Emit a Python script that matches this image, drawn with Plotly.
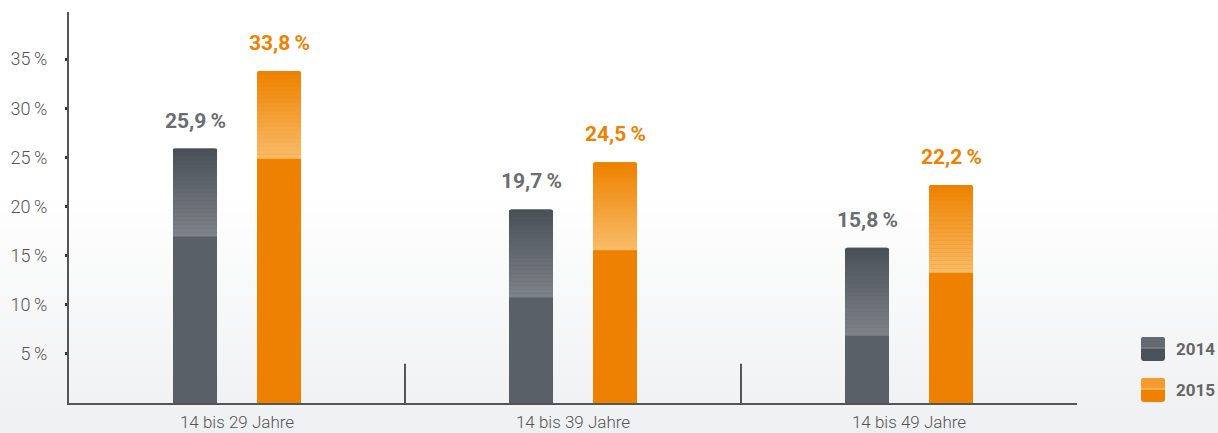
import plotly.graph_objects as go

categories = ["14 bis 29 Jahre", "14 bis 39 Jahre", "14 bis 49 Jahre"]
series_names = ["2014", "2015"]
values_2014 = [25.9, 19.7, 15.8]
values_2015 = [33.8, 24.5, 22.2]
labels_2014 = ["25,9\u2009%", "19,7\u2009%", "15,8\u2009%"]
labels_2015 = ["33,8\u2009%", "24,5\u2009%", "22,2\u2009%"]
tick_vals = [5, 10, 15, 20, 25, 30, 35]
tick_text = ["5\u2009%", "10\u2009%", "15\u2009%", "20\u2009%", "25\u2009%", "30\u2009%", "35\u2009%"]

W, H = 1218, 433
ML, MR, MT, MB = 69, 141, 12, 30
YMAX = 39.8
BAR_W = 0.131
CAP = 8.95  # gradient cap height in y units
NSEG = 22

def hex2rgb(h):
    h = h.lstrip("#")
    return tuple(int(h[i:i + 2], 16) for i in (0, 2, 4))

def mix(c1, c2, t):
    a, b = hex2rgb(c1), hex2rgb(c2)
    return "rgb(%d,%d,%d)" % tuple(round(a[i] + (b[i] - a[i]) * t) for i in range(3))

styles = {
    "2014": dict(base="#5a6068", top="#4a5058", low="#7d8288", text="#6a6d71", offset=-0.125,
                 lg_top="#646a71", lg_bot="#4c5259"),
    "2015": dict(base="#ee8200", top="#ee8200", low="#f8bb66", text="#ee8200", offset=0.125,
                 lg_top="#f49c30", lg_bot="#ee8200"),
}

fig = go.Figure()
xs = list(range(len(categories)))

for name, vals, labs in [("2014", values_2014, labels_2014), ("2015", values_2015, labels_2015)]:
    st = styles[name]
    off = st["offset"] - BAR_W / 2
    fig.add_trace(go.Bar(x=xs, y=vals, width=BAR_W, offset=off, name=name,
                         marker=dict(color=st["base"], cornerradius=3, line=dict(width=0)),
                         showlegend=False, hoverinfo="skip"))
    seg = CAP / NSEG
    for i in range(NSEG):
        t = i / (NSEG - 1)
        col = mix(st["low"], st["top"], t)
        bases = [v - CAP + i * seg for v in vals]
        top_seg = i == NSEG - 1
        fig.add_trace(go.Bar(x=xs, y=[seg * (1.0 if top_seg else 1.05)] * len(vals), base=bases,
                             width=BAR_W, offset=off,
                             marker=dict(color=col, cornerradius=3 if top_seg else 0, line=dict(width=0)),
                             showlegend=False, hoverinfo="skip"))
    for x, v, lab in zip(xs, vals, labs):
        fig.add_annotation(x=x + st["offset"], y=v, text="<b>%s</b>" % lab, showarrow=False,
                           yshift=28, font=dict(family="Roboto", size=21, color=st["text"]))

ph = H - MT - MB
pw = W - ML - MR

# background gradient bands
shapes = []
nb = 30
py_start, py_end = 190, H
for i in range(nb):
    p0 = py_start + (py_end - py_start) * i / nb
    p1 = py_start + (py_end - py_start) * (i + 1) / nb + 1
    t = (i + 0.5) / nb
    col = mix("#ffffff", "#eff0f2", t)
    shapes.append(dict(type="rect", xref="paper", yref="paper",
                       x0=-ML / pw, x1=1 + MR / pw,
                       y0=(H - MB - p1) / ph, y1=(H - MB - p0) / ph,
                       fillcolor=col, line=dict(width=0), layer="below"))

# category separators
for sx in [0.5, 1.5]:
    shapes.append(dict(type="line", xref="x", yref="y", x0=sx, x1=sx, y0=0, y1=4,
                       line=dict(color="#555555", width=2)))

# legend boxes
for name, py in [("2014", 349), ("2015", 390)]:
    st = styles[name]
    px = 1153
    xa = (px - ML) / pw
    ya = (H - MB - py) / ph
    shapes.append(dict(type="path", xref="paper", yref="paper", xsizemode="pixel", ysizemode="pixel",
                       xanchor=xa, yanchor=ya,
                       path="M -9 -12 L 9 -12 Q 12 -12 12 -9 L 12 9 Q 12 12 9 12 L -9 12 Q -12 12 -12 9 L -12 -9 Q -12 -12 -9 -12 Z",
                       fillcolor=st["lg_bot"], line=dict(width=0)))
    shapes.append(dict(type="path", xref="paper", yref="paper", xsizemode="pixel", ysizemode="pixel",
                       xanchor=xa, yanchor=ya,
                       path="M -12 1 L 12 1 L 12 9 Q 12 12 9 12 L -9 12 Q -12 12 -12 9 Z",
                       fillcolor=st["lg_top"], line=dict(width=0)))
    shapes.append(dict(type="line", xref="paper", yref="paper", xsizemode="pixel", ysizemode="pixel",
                       xanchor=xa, yanchor=ya, x0=-12, x1=12, y0=1, y1=1,
                       line=dict(color=st["low"], width=1.5)))
    fig.add_annotation(xref="paper", yref="paper", x=(1174 - ML) / pw, y=ya, xanchor="left",
                       yanchor="middle",
                       text="<b>%s</b>" % name, showarrow=False,
                       font=dict(family="Roboto", size=17, color="#666666"))

fig.update_layout(
    width=W, height=H,
    margin=dict(l=ML, r=MR, t=MT, b=MB, pad=0, autoexpand=False),
    barmode="overlay",
    paper_bgcolor="#ffffff",
    plot_bgcolor="rgba(0,0,0,0)",
    shapes=shapes,
    showlegend=False,
    xaxis=dict(range=[-0.5, 2.5], tickvals=xs, ticktext=categories, showgrid=False, zeroline=False,
               showline=True, linecolor="#555555", linewidth=2, ticks="", automargin=False,
               ticklabelstandoff=3,
               tickfont=dict(family="Roboto", size=17, color="#555555", weight=300)),
    yaxis=dict(range=[0, YMAX], tickvals=tick_vals, ticktext=tick_text, showgrid=False, zeroline=False,
               showline=True, linecolor="#555555", linewidth=2, ticks="outside", ticklen=2, tickwidth=3,
               tickcolor="#333333", ticklabelstandoff=14, automargin=False,
               tickfont=dict(family="Roboto", size=18, color="#555555", weight=300)),
)

fig.write_html("out.html")
